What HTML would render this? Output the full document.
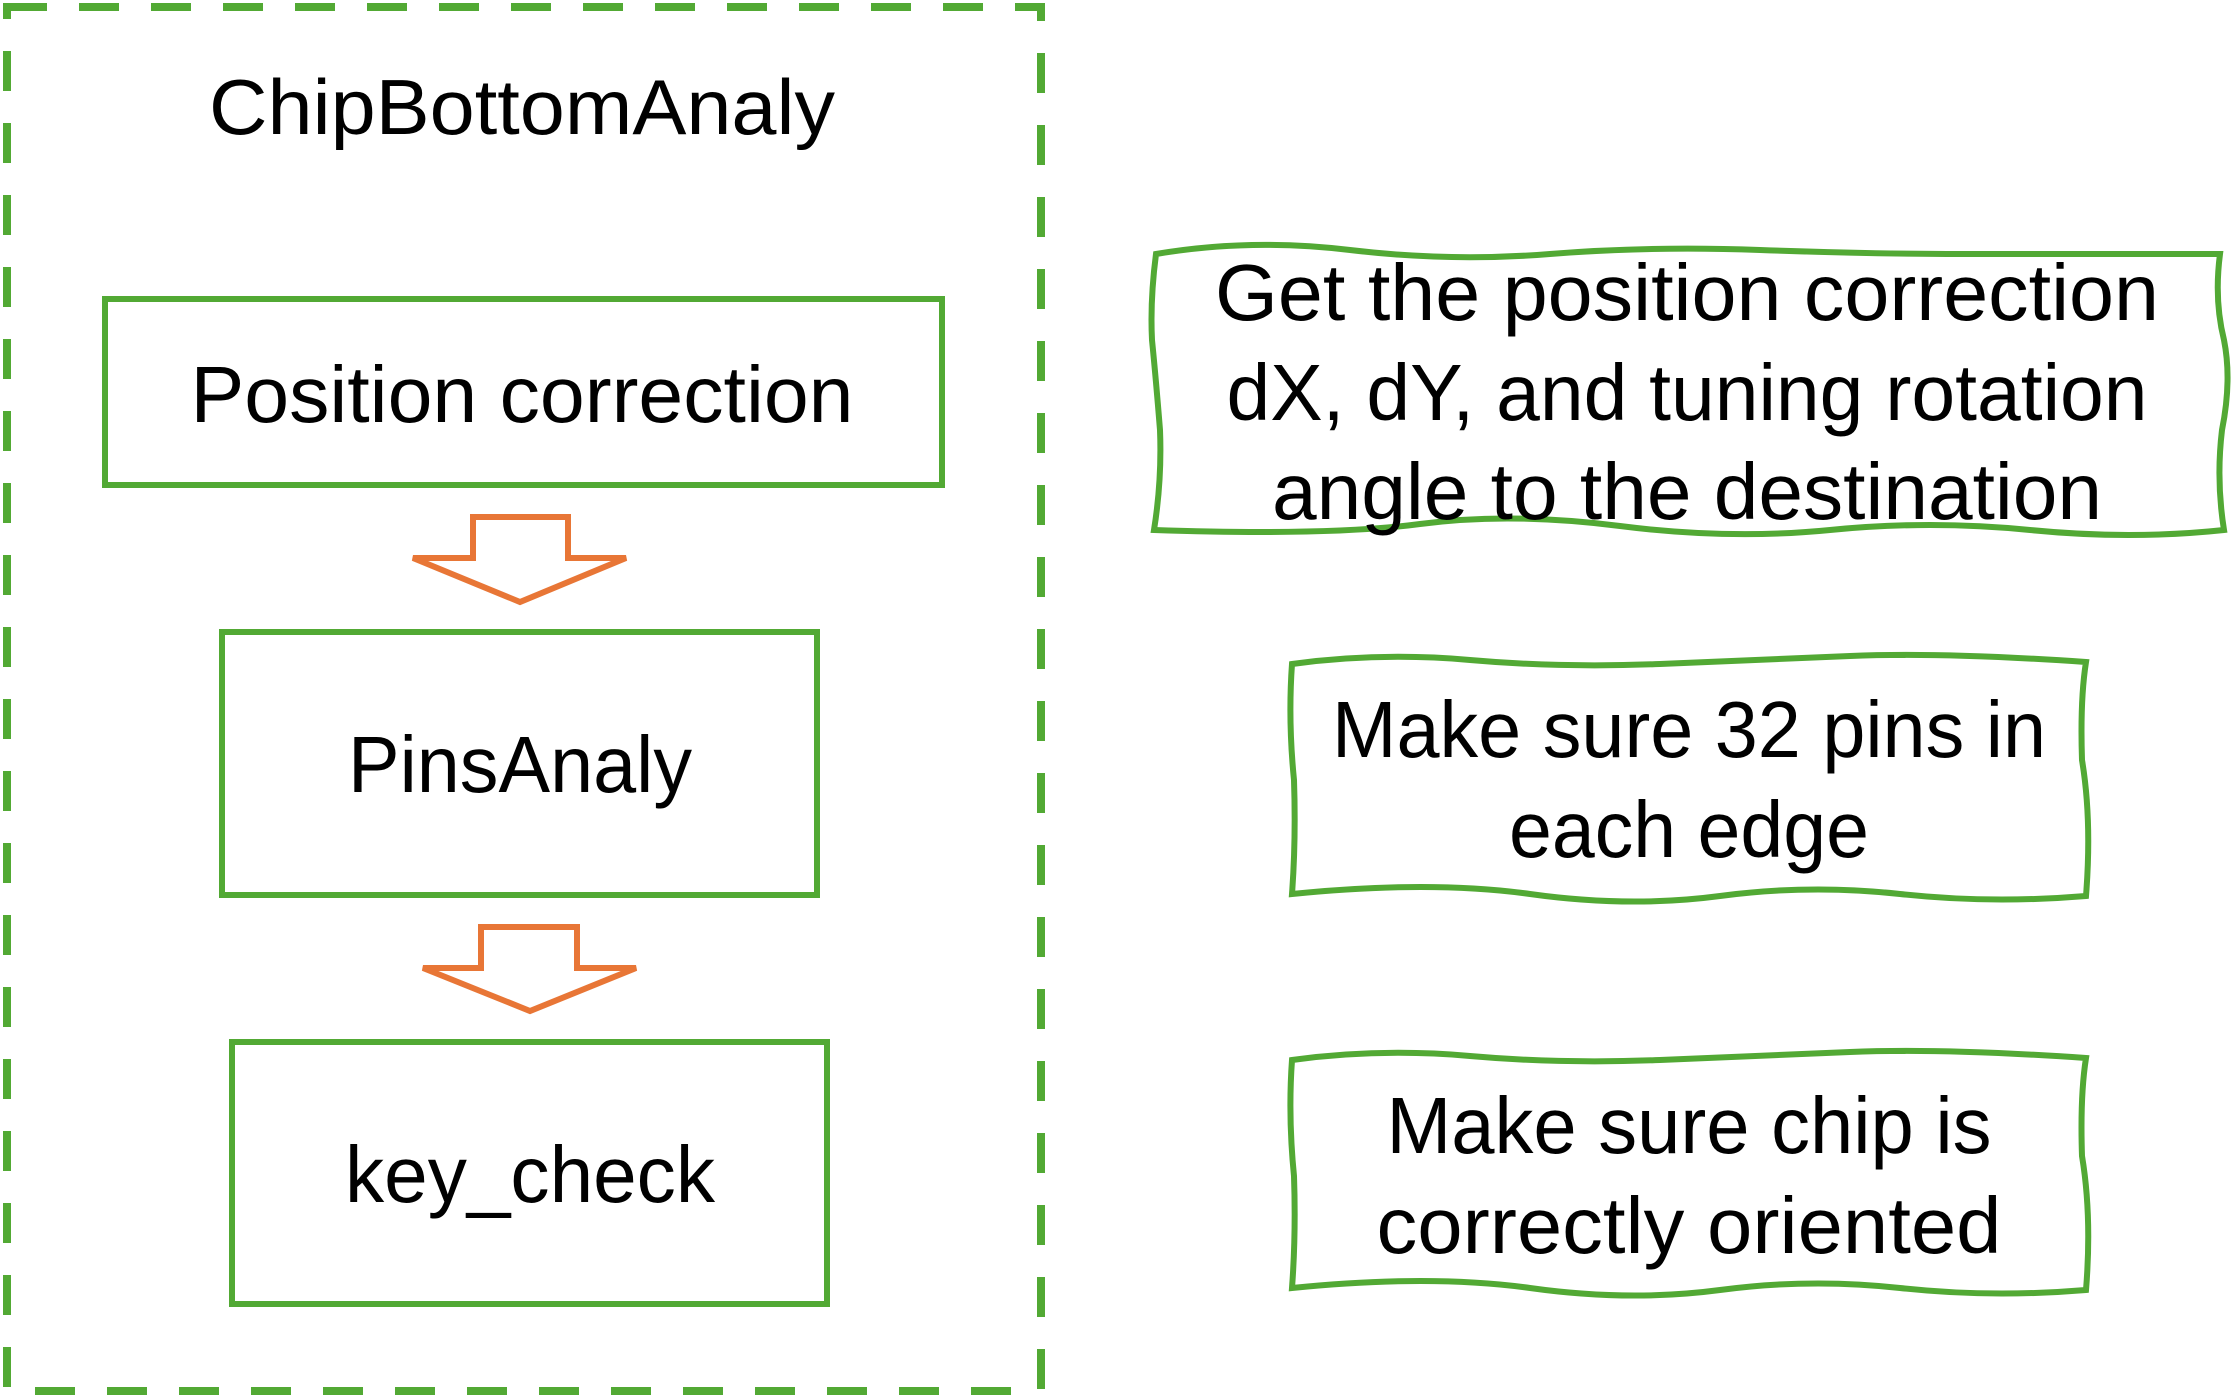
<!DOCTYPE html>
<html><head><meta charset="utf-8"><style>
html,body{margin:0;padding:0;background:#fff;}
svg{display:block;}
text{font-family:"Liberation Sans",sans-serif;fill:#000;}
</style></head><body>
<svg width="2232" height="1397" viewBox="0 0 2232 1397" xmlns="http://www.w3.org/2000/svg">
<rect x="7" y="7" width="1034" height="1384" fill="none" stroke="#52a934" stroke-width="8" stroke-dasharray="40,32"/>
<text x="522" y="134" font-size="78" text-anchor="middle" textLength="626" lengthAdjust="spacingAndGlyphs">ChipBottomAnaly</text>

<rect x="105" y="299" width="837" height="186" fill="none" stroke="#52a934" stroke-width="6"/>
<text x="522" y="422" font-size="80" text-anchor="middle" textLength="663" lengthAdjust="spacingAndGlyphs">Position correction</text>

<polygon points="473,517 568,517 568,558 626,558 520,602 413,558 473,558" fill="#fff" stroke="#e87636" stroke-width="6"/>

<rect x="222" y="632" width="595" height="263" fill="none" stroke="#52a934" stroke-width="6"/>
<text x="520" y="792" font-size="80" text-anchor="middle" textLength="344" lengthAdjust="spacingAndGlyphs">PinsAnaly</text>

<polygon points="481,927 577,927 577,968 636,968 530,1011 423,968 481,968" fill="#fff" stroke="#e87636" stroke-width="6"/>

<rect x="232" y="1042" width="595" height="262" fill="none" stroke="#52a934" stroke-width="6"/>
<text x="530" y="1202" font-size="80" text-anchor="middle" textLength="370" lengthAdjust="spacingAndGlyphs">key_check</text>

<path d="M1156,254 Q1250,238 1350,250 T1550,254 T1760,250 T1960,254 T2220,254 Q2214,300 2224,340 Q2232,380 2222,430 Q2216,480 2224,530 Q2130,540 2030,530 T1830,530 T1620,526 T1420,524 T1154,530 Q1162,480 1160,430 Q1156,380 1152,340 Q1150,300 1156,254 Z" fill="none" stroke="#52a934" stroke-width="6"/>
<text x="1687" y="320" font-size="80" text-anchor="middle" textLength="944" lengthAdjust="spacingAndGlyphs">Get the position correction</text>
<text x="1687" y="420" font-size="80" text-anchor="middle" textLength="921" lengthAdjust="spacingAndGlyphs">dX, dY, and tuning rotation</text>
<text x="1687" y="519" font-size="80" text-anchor="middle" textLength="830" lengthAdjust="spacingAndGlyphs">angle to the destination</text>

<path d="M1292,664 Q1380,652 1470,660 T1660,664 T1850,656 T2086,662 Q2080,700 2082,760 Q2092,820 2086,896 Q1990,904 1900,894 T1720,896 T1530,894 T1292,894 Q1296,840 1294,780 Q1288,720 1292,664 Z" fill="none" stroke="#52a934" stroke-width="6"/>
<text x="1689" y="757" font-size="80" text-anchor="middle" textLength="714" lengthAdjust="spacingAndGlyphs">Make sure 32 pins in</text>
<text x="1689" y="857" font-size="80" text-anchor="middle" textLength="360" lengthAdjust="spacingAndGlyphs">each edge</text>

<path d="M1292,1060 Q1380,1048 1470,1056 T1660,1060 T1850,1052 T2086,1058 Q2080,1096 2082,1156 Q2092,1216 2086,1290 Q1990,1298 1900,1288 T1720,1290 T1530,1288 T1292,1288 Q1296,1234 1294,1176 Q1288,1116 1292,1060 Z" fill="none" stroke="#52a934" stroke-width="6"/>
<text x="1689" y="1153" font-size="80" text-anchor="middle" textLength="605" lengthAdjust="spacingAndGlyphs">Make sure chip is</text>
<text x="1689" y="1253" font-size="80" text-anchor="middle" textLength="625" lengthAdjust="spacingAndGlyphs">correctly oriented</text>
</svg>
</body></html>
